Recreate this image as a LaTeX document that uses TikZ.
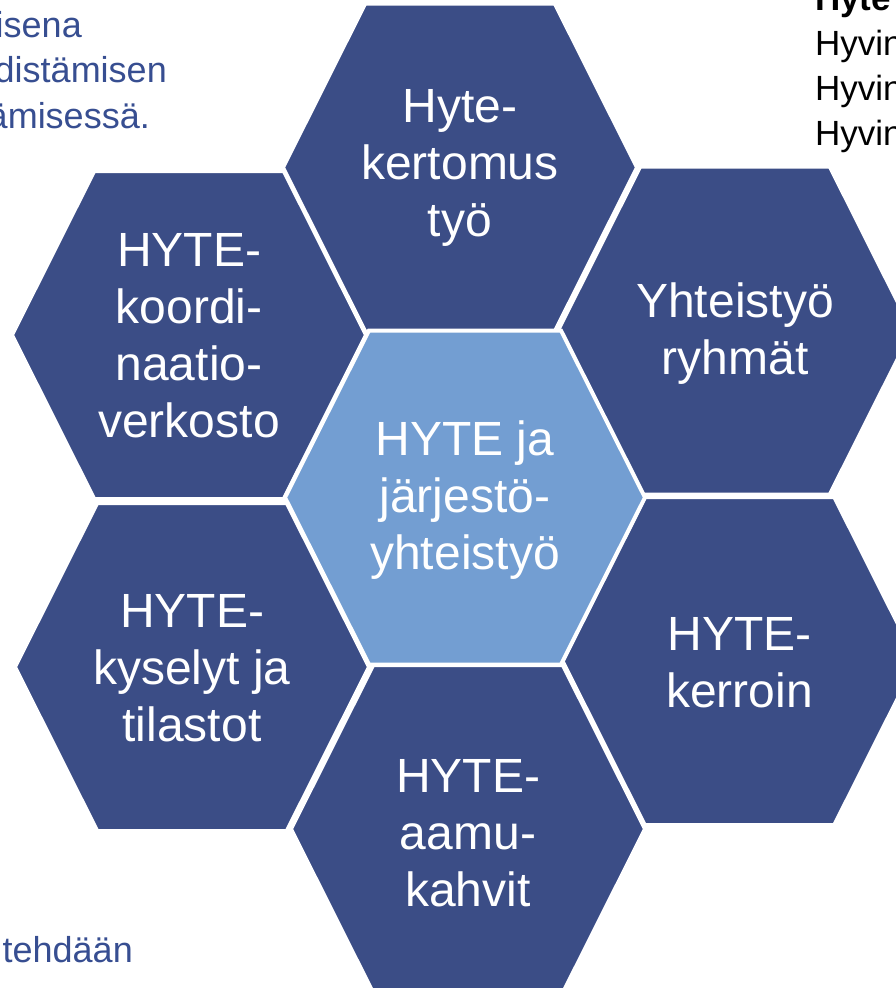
\documentclass[tikz,border=0pt]{standalone}
\usepackage{fontspec}
\setmainfont{Liberation Sans}
\definecolor{hexdark}{RGB}{59,77,134}
\definecolor{hexlight}{RGB}{115,158,210}
\definecolor{sideblue}{RGB}{55,78,145}
\newcommand{\hexshape}[6]{%
  \path[#6] ({#1-#3},#2) -- ({#1-#5},{#2-#4}) -- ({#1+#5},{#2-#4}) --
    ({#1+#3},#2) -- ({#1+#5},{#2+#4}) -- ({#1-#5},{#2+#4}) -- cycle;}
\tikzset{
  darkhex/.style={fill=hexdark, draw=white, line width=3pt, line join=miter},
  lighthex/.style={fill=hexlight, draw=white, line width=4pt, line join=miter},
  hextext/.style={text=white, align=center, inner sep=0pt,
    font=\fontsize{48}{57}\selectfont},
  sidetext/.style={text=sideblue, inner sep=0pt, font=\fontsize{36}{45}\selectfont},
  righttext/.style={text=black, inner sep=0pt, font=\fontsize{35}{45}\selectfont}
}
\begin{document}
\begin{tikzpicture}[x=1pt,y=-1pt]
\useasboundingbox (0,0) rectangle (896,988);
\clip (0,0) rectangle (896,988);
\fill[white] (0,0) rectangle (896,988);
% hexagons
\hexshape{460}{167.5}{176.5}{163.5}{94.5}{darkhex}
\hexshape{189}{335}{176.5}{163.5}{94.5}{darkhex}
\hexshape{735}{330.5}{176.5}{163.5}{94.5}{darkhex}
\hexshape{192}{667}{176.5}{163.5}{94.5}{darkhex}
\hexshape{739.5}{661}{176.5}{163.5}{94.5}{darkhex}
\hexshape{468}{829}{176.5}{163.5}{94.5}{darkhex}
\hexshape{465}{497.5}{180}{167}{96}{lighthex}
% hexagon texts
\node[hextext] (top) at (460,168) {Hyte-\\kertomus\\työ};
\node[hextext] (ul) at (189,336) {HYTE-\\koordi-\\naatio-\\verkosto};
\node[hextext] (ur) at (735,334) {Yhteistyö\\ryhmät};
\node[hextext] (mid) at (465,500) {HYTE ja\\järjestö-\\yhteistyö};
\node[hextext] (ll) at (192,668) {HYTE-\\kyselyt ja\\tilastot};
\node[hextext] (lr) at (739.5,663) {HYTE-\\kerroin};
\node[hextext] (bot) at (468,833) {HYTE-\\aamu-\\kahvit};
% partial side texts
\node[sidetext, anchor=base east] (s1) at (82,37) {isena};
\node[sidetext, anchor=base east] (s2) at (167,82) {distämisen};
\node[sidetext, anchor=base east] (s3) at (150,128) {ämisessä.};
\node[sidetext, anchor=base east] (s4) at (133,962) {tehdään};
\node[righttext, anchor=base west] (r0) at (815,10) {\textbf{Hyte}};
\node[righttext, anchor=base west] (r1) at (815,55) {Hyvin};
\node[righttext, anchor=base west] (r2) at (815,100) {Hyvin};
\node[righttext, anchor=base west] (r3) at (815,145) {Hyvin};
\end{tikzpicture}
\end{document}
